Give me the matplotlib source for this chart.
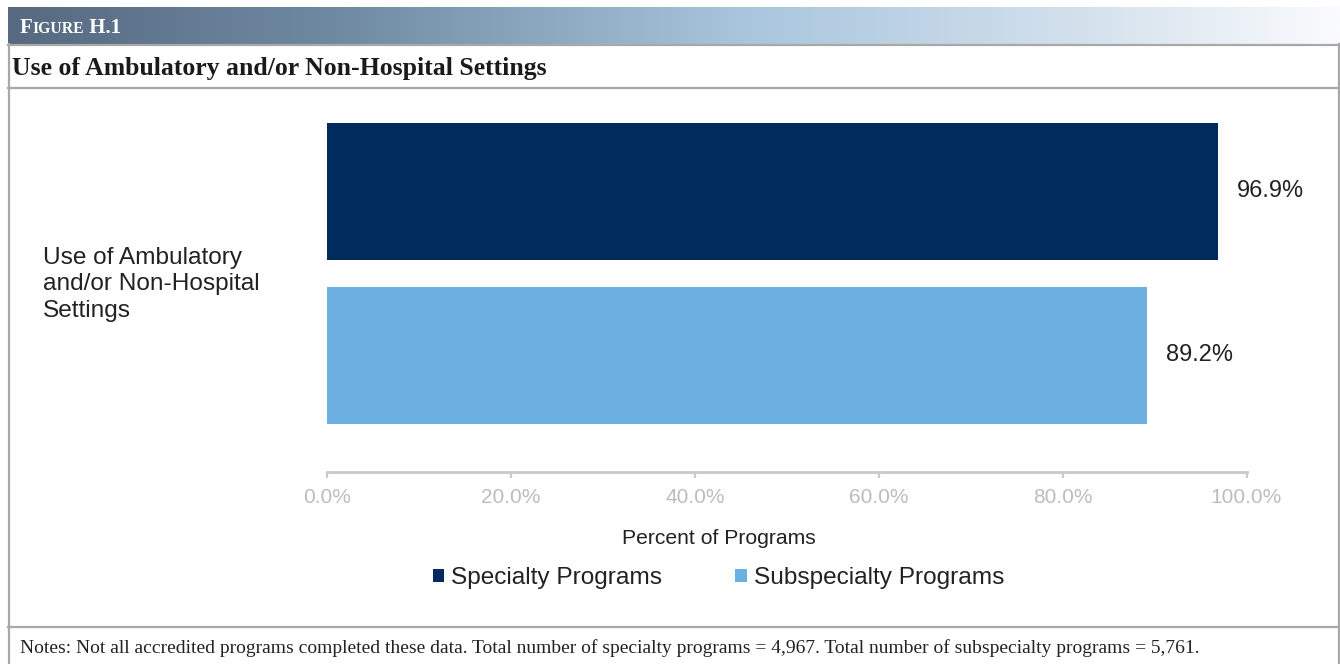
import matplotlib
matplotlib.use("Agg")
import matplotlib.pyplot as plt
import matplotlib.transforms as mtransforms
import numpy as np
from matplotlib.patches import Patch
from matplotlib.lines import Line2D

# ---- data ----
categories = ["Use of Ambulatory\nand/or Non-Hospital\nSettings"]
series_names = ["Specialty Programs", "Subspecialty Programs"]
specialty = [96.9]
subspecialty = [89.2]
xticks = [0, 20, 40, 60, 80, 100]
figure_label = ("F", "IGURE", " H.1")
title = "Use of Ambulatory and/or Non-Hospital Settings"
xlabel = "Percent of Programs"
notes = ("Notes: Not all accredited programs completed these data. Total number of specialty "
         "programs = 4,967. Total number of subspecialty programs = 5,761.")

# ---- style ----
W, H = 1340, 664
DARK = "#002B5C"
LIGHT = "#6BB0E0"
BORDER = "#a8a8a8"
AXIS = "#c9c9c9"
TICKTXT = "#bdbdbd"
TXT = "#222222"
SANS = ["Liberation Sans", "DejaVu Sans"]
SERIF = ["Liberation Serif", "DejaVu Serif"]

plt.rcParams["font.family"] = SANS

fig = plt.figure(figsize=(W / 100, H / 100), dpi=100)
fig.patch.set_facecolor("white")

def fx(px):
    return px / W

def fy(py):
    return 1 - py / H

# header gradient
hax = fig.add_axes([fx(8), fy(44), fx(1340 - 8), (44 - 7) / H])
stops = np.array([0.0, 0.25, 0.55, 0.8, 1.0])
cols = np.array([[86, 105, 128], [112, 138, 164], [168, 197, 221], [210, 224, 236], [250, 251, 253]]) / 255
xs = np.linspace(0, 1, 600)
grad = np.stack([np.interp(xs, stops, cols[:, i]) for i in range(3)], axis=-1)[None, :, :]
hax.imshow(grad, aspect="auto", extent=[0, 1, 0, 1])
hax.set_axis_off()

# frame lines
def hline(py, x0=8, x1=1339):
    fig.add_artist(Line2D([fx(x0), fx(x1)], [fy(py), fy(py)], color=BORDER, lw=1.6))

def vline(px, y0=44, y1=664):
    fig.add_artist(Line2D([fx(px), fx(px)], [fy(y0), fy(y1)], color=BORDER, lw=1.6))

hline(44.5)
hline(88)
hline(627)
vline(8.5)
vline(1338.5)

# header text (small caps)
renderer = fig.canvas.get_renderer()
x = fx(20)
sizes = [15, 11.3, 15]
for piece, s in zip(figure_label, sizes):
    t = fig.text(x, fy(33), piece, color="white", fontsize=s, family=SERIF,
                 fontweight="bold", va="baseline", ha="left")
    bb = t.get_window_extent(renderer)
    x = bb.x1 / W

# title
fig.text(fx(12), fy(75), title, fontsize=18.5, family=SERIF, fontweight="bold",
         color="#1a1a1a", va="baseline", ha="left")

# notes
fig.text(fx(20), fy(653), notes, fontsize=14, family=SERIF, color="#222222",
         va="baseline", ha="left")

# ---- chart ----
ax_left, ax_right = 327, 1246.5
ax_top, ax_bot = 105, 472
ax = fig.add_axes([fx(ax_left), fy(ax_bot), (ax_right - ax_left) / W, (ax_bot - ax_top) / H])

pos = np.arange(len(categories), dtype=float)
offset = 0.5
bar_h = 137 / 164
b1 = ax.barh(pos + offset, specialty, height=bar_h, color=DARK, label=series_names[0])
b2 = ax.barh(pos - offset, subspecialty, height=bar_h, color=LIGHT, label=series_names[1])

for bars, vals in ((b1, specialty), (b2, subspecialty)):
    for rect, v in zip(bars, vals):
        ax.annotate(f"{v:.1f}%", xy=(v, rect.get_y() + rect.get_height() / 2),
                    xytext=(13.5, 0), textcoords="offset points", ha="left", va="center",
                    fontsize=17, color=TXT)

ax.set_xlim(0, 100)
ax.set_ylim(-offset - (472 - 355.5) / 164, offset + (191.5 - 105) / 164)
ax.set_xticks(xticks)
ax.set_xticklabels([f"{v:.1f}%" for v in xticks])
ax.tick_params(axis="x", direction="out", length=4.5, width=1.6, color=AXIS,
               labelcolor=TICKTXT, labelsize=15, pad=7)
ax.set_yticks(pos)
ax.set_yticklabels(categories)
ax.tick_params(axis="y", length=0, pad=(ax_left - 43) * 0.72, labelsize=17.6, labelcolor=TXT)
shift = mtransforms.ScaledTranslation(0, -6 / 100, fig.dpi_scale_trans)
for lab in ax.get_yticklabels():
    lab.set_horizontalalignment("left")
    lab.set_multialignment("left")
    lab.set_linespacing(1.27)
    lab.set_transform(lab.get_transform() + shift)
for s in ("top", "right", "left"):
    ax.spines[s].set_visible(False)
ax.spines["bottom"].set_color(AXIS)
ax.spines["bottom"].set_linewidth(2)
ax.set_facecolor("none")

fig.text(fx(718.5), fy(539), xlabel, fontsize=15.2, color=TXT, ha="center", va="center")

handles = [Patch(facecolor=DARK, edgecolor="none"), Patch(facecolor=LIGHT, edgecolor="none")]
fig.legend(handles, series_names, loc="center", bbox_to_anchor=(fx(718.5), fy(578)),
           ncol=2, frameon=False, fontsize=17.6, handlelength=0.46, handleheight=0.46,
           handletextpad=0.3, columnspacing=3.0, labelcolor=TXT, borderpad=0)

fig.savefig("out.png", dpi=100, facecolor="white")
